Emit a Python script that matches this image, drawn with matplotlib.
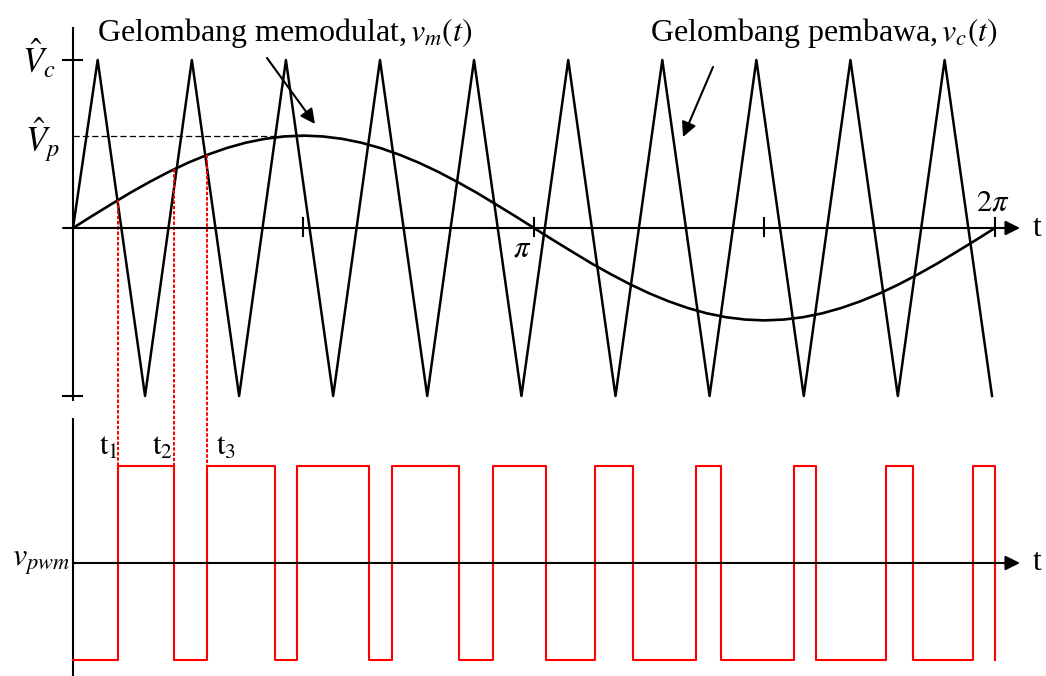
import numpy as np
import matplotlib.pyplot as plt

plt.rcParams['font.family'] = ['Liberation Serif', 'DejaVu Serif']
plt.rcParams['mathtext.fontset'] = 'stix'

# carrier vertices (rad) and values (per unit of Vc)
carrier_t = [0.0, 0.168, 0.491, 0.810, 1.132, 1.451, 1.773, 2.092, 2.414, 2.733,
             3.056, 3.375, 3.697, 4.016, 4.338, 4.657, 4.980, 5.298, 5.621, 5.940, 6.263]
carrier_v = [0, 1, -1, 1, -1, 1, -1, 1, -1, 1, -1, 1, -1, 1, -1, 1, -1, 1, -1, 1, -1]

# modulating wave, every pi/24 (per unit of Vc)
mod_half = [0.000, 0.072, 0.142, 0.211, 0.275, 0.335, 0.389, 0.436, 0.476, 0.508, 0.531,
            0.545, 0.550, 0.545, 0.531, 0.508, 0.476, 0.436, 0.389, 0.335, 0.275, 0.211,
            0.142, 0.072]
mod_v = mod_half + [-v for v in mod_half] + [0.000]
mod_t = np.linspace(0, 2 * np.pi, len(mod_v))
vp_level = 0.55

# PWM switching instants (rad), output starts low
pwm_switch = [0.309, 0.688, 0.911, 1.377, 1.529, 2.017, 2.174, 2.633, 2.860, 3.221,
              3.557, 3.814, 4.246, 4.418, 4.916, 5.063, 5.540, 5.727, 6.135, 6.283]

# pixel helpers for layout (x0 = 73 px, 146.74 px/rad, axis at y=228, 168 px per unit)
def px(x, y):
    return (x - 73) / 146.74, (228 - y) / 168

pwm_axis = -1.994
pwm_amp = 0.58

fig = plt.figure(figsize=(10.46, 6.76), dpi=100)
ax = fig.add_axes([0, 0, 1, 1])
xl, yt = px(0, 0)
xr, yb = px(1046, 676)
ax.set_xlim(xl, xr)
ax.set_ylim(yb, yt)
ax.axis('off')

lw = 1.5
arrow_kw = dict(arrowstyle='-|>', color='black', lw=lw, mutation_scale=22, shrinkA=0, shrinkB=0)

# vertical axis (with a small break) and its ticks
ax.plot([0, 0], [px(0, 28)[1], px(0, 400)[1]], color='black', lw=lw)
ax.plot([0, 0], [px(0, 419)[1], yb], color='black', lw=lw)
for v in [1, -1]:
    ax.plot([px(63, 0)[0], px(82, 0)[0]], [v, v], color='black', lw=lw)

# time axes
ax.annotate('', xy=(px(1020, 0)[0], 0), xytext=(px(63, 0)[0], 0), arrowprops=arrow_kw)
ax.annotate('', xy=(px(1020, 0)[0], pwm_axis), xytext=(0, pwm_axis), arrowprops=arrow_kw)
for tk in [np.pi / 2, np.pi, 3 * np.pi / 2, 2 * np.pi]:
    ax.plot([tk, tk], [0.06, -0.05], color='black', lw=lw)

# carrier and modulating waves
ax.plot(carrier_t, carrier_v, color='black', lw=1.8)
ax.plot(mod_t, mod_v, color='black', lw=1.9)
ax.plot([0, np.pi / 2], [vp_level, vp_level], color='black', lw=0.9, linestyle=(0, (5, 2.5)))

# PWM output
xs, ys = [0], [-1]
level = -1
for ts in pwm_switch:
    xs += [ts, ts]
    ys += [level, -level]
    level = -level
ax.plot(xs, pwm_axis + pwm_amp * np.array(ys), color='red', lw=lw)

# projection of t1..t3 down to the PWM trace
for ts in pwm_switch[:3]:
    ax.plot([ts, ts], [np.interp(ts, mod_t, mod_v), pwm_axis + pwm_amp], color='red', lw=1.4,
            linestyle=(0, (1.8, 0.9)))

fs = 23
ax.text(*px(97, 41), 'Gelombang memodulat,$\\,v_m(t)$', fontsize=fs, va='baseline', ha='left')
ax.text(*px(650, 41), 'Gelombang pembawa,$\\,v_c(t)$', fontsize=fs, va='baseline', ha='left')
ax.annotate('', xy=px(315, 124), xytext=px(267, 58), arrowprops=arrow_kw)
ax.annotate('', xy=px(683, 137), xytext=px(713, 67), arrowprops=arrow_kw)

ax.text(*px(56, 60), r'$\hat{V}_c$', fontsize=25, va='center', ha='right')
ax.text(*px(60, 140), r'$\hat{V}_p$', fontsize=25, va='center', ha='right')
ax.text(np.pi - 0.08, px(0, 249)[1], r'$\pi$', fontsize=22, va='center', ha='center')
ax.text(px(993, 0)[0], px(0, 203)[1], r'$2\pi$', fontsize=22, va='center', ha='center')
ax.text(px(1037, 0)[0], 0, 't', fontsize=23, va='center', ha='center')
ax.text(px(1037, 0)[0], pwm_axis, 't', fontsize=23, va='center', ha='center')
ax.text(px(12, 565)[0], pwm_axis, r'$v_{pwm}$', fontsize=23, va='center', ha='left')

for lab, x, ha in [(r'$\mathrm{t}_1$', 118, 'right'), (r'$\mathrm{t}_2$', 173, 'right'),
                   (r'$\mathrm{t}_3$', 216, 'left')]:
    ax.text(*px(x, 455), lab, fontsize=22, va='baseline', ha=ha)

fig.savefig('out.png', dpi=100)
